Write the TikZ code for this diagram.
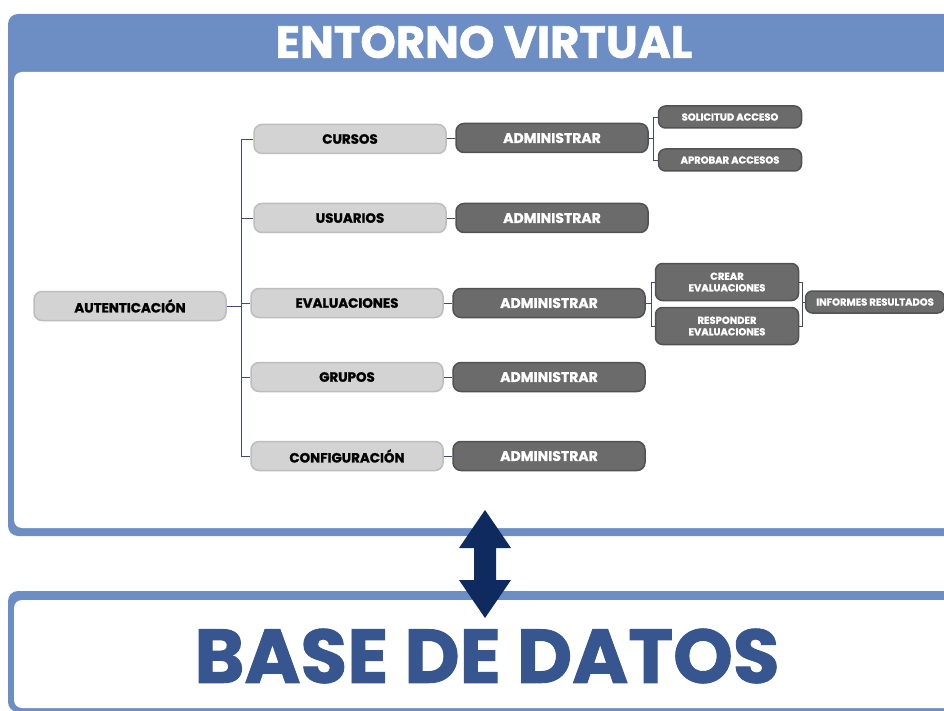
\documentclass[tikz,border=0pt]{standalone}
\usepackage{fontspec}
\setmainfont{Poppins}[BoldFeatures={FakeBold=1.2}]
\definecolor{panelblue}{HTML}{6D8EC4}
\definecolor{dbblue}{HTML}{37558F}
\definecolor{navy}{HTML}{0E2A5E}
\definecolor{lightfill}{HTML}{D3D3D3}
\definecolor{lightdraw}{HTML}{BDBDBD}
\definecolor{darkfill}{HTML}{6B6B6B}
\definecolor{darkdraw}{HTML}{525252}
\definecolor{linkcol}{HTML}{3E4C6E}
\begin{document}
\begin{tikzpicture}[x=1pt,y=-1pt,
  lightbox/.style={draw=lightdraw, line width=1.5pt, fill=lightfill, rounded corners=8pt,
    minimum width=192pt, minimum height=29pt, inner sep=0pt,
    font=\bfseries\fontsize{13.4}{13.4}\selectfont, text=black},
  darkbox/.style={draw=darkdraw, line width=1.5pt, fill=darkfill, rounded corners=8pt,
    minimum width=192pt, minimum height=29pt, inner sep=0pt,
    font=\bfseries\fontsize{14}{14}\selectfont, text=white},
  smallbox/.style={draw=darkdraw, line width=1.5pt, fill=darkfill, rounded corners=7pt,
    minimum width=143pt, minimum height=22pt, inner sep=0pt, align=center,
    font=\bfseries\fontsize{10}{11.5}\selectfont, text=white},
  link/.style={draw=linkcol, line width=0.9pt}]
\useasboundingbox (0,0) rectangle (944,711);
\clip (0,0) rectangle (944,711);
% top panel
\fill[panelblue, rounded corners=10pt] (8,14) rectangle (970,536);
\fill[white, rounded corners=8pt] (14,72) rectangle (970,528);
\node[text=white, font=\bfseries\fontsize{45}{45}\selectfont] (title) at (484,42) {ENTORNO VIRTUAL};
% bottom panel
\fill[panelblue, rounded corners=10pt] (8,591) rectangle (970,712);
\fill[white, rounded corners=8pt] (14,600) rectangle (970,708);
\node[text=dbblue, font=\bfseries\fontsize{76}{76}\selectfont] (db) at (487,656) {BASE DE DATOS};
% double arrow
\fill[navy] (485,510) -- (511,548) -- (496,548) -- (496,580) -- (511,580) -- (485,618)
  -- (459,580) -- (474,580) -- (474,548) -- (459,548) -- cycle;
% nodes
\node[lightbox] (aut) at (130,306) {AUTENTICACIÓN};
\node[lightbox] (cur) at (350,139) {CURSOS};
\node[lightbox] (usu) at (350,218) {USUARIOS};
\node[lightbox] (eva) at (347,303) {EVALUACIONES};
\node[lightbox] (gru) at (347,377) {GRUPOS};
\node[lightbox] (con) at (347,456) {CONFIGURACIÓN};
\node[darkbox] (a1) at (552,138) {ADMINISTRAR};
\node[darkbox] (a2) at (552,218) {ADMINISTRAR};
\node[darkbox] (a3) at (549,303) {ADMINISTRAR};
\node[darkbox] (a4) at (549,377) {ADMINISTRAR};
\node[darkbox] (a5) at (549,456) {ADMINISTRAR};
\node[smallbox] (sol) at (730,117) {SOLICITUD ACCESO};
\node[smallbox] (apr) at (730,160) {APROBAR ACCESOS};
\node[smallbox, minimum height=37pt] (cre) at (727,282) {CREAR\\EVALUACIONES};
\node[smallbox, minimum height=37pt] (res) at (727,326) {RESPONDER\\EVALUACIONES};
\node[smallbox, minimum width=139pt] (inf) at (875,302) {INFORMES RESULTADOS};
% connectors
\coordinate (tr) at (241,306);
\draw[link] (aut.east) -- (tr);
\draw[link] (tr) |- (cur.west);
\draw[link] (tr) |- (usu.west);
\draw[link] (tr) |- (eva.west);
\draw[link] (tr) |- (gru.west);
\draw[link] (tr) |- (con.west);
\draw[link] (cur) -- (a1);
\draw[link] (usu) -- (a2);
\draw[link] (eva) -- (a3);
\draw[link] (gru) -- (a4);
\draw[link] (con) -- (a5);
\coordinate (b1) at (653,138);
\draw[link] (a1.east) -- (b1);
\draw[link] (b1) |- (sol.west);
\draw[link] (b1) |- (apr.west);
\coordinate (b3) at (651,303);
\draw[link] (a3.east) -- (b3);
\draw[link] (b3) |- (cre.west);
\draw[link] (b3) |- (res.west);
\coordinate (b4) at (802,302);
\draw[link] (cre.east) -| (b4);
\draw[link] (res.east) -| (b4);
\draw[link] (b4) -- (inf.west);
\end{tikzpicture}
\end{document}
